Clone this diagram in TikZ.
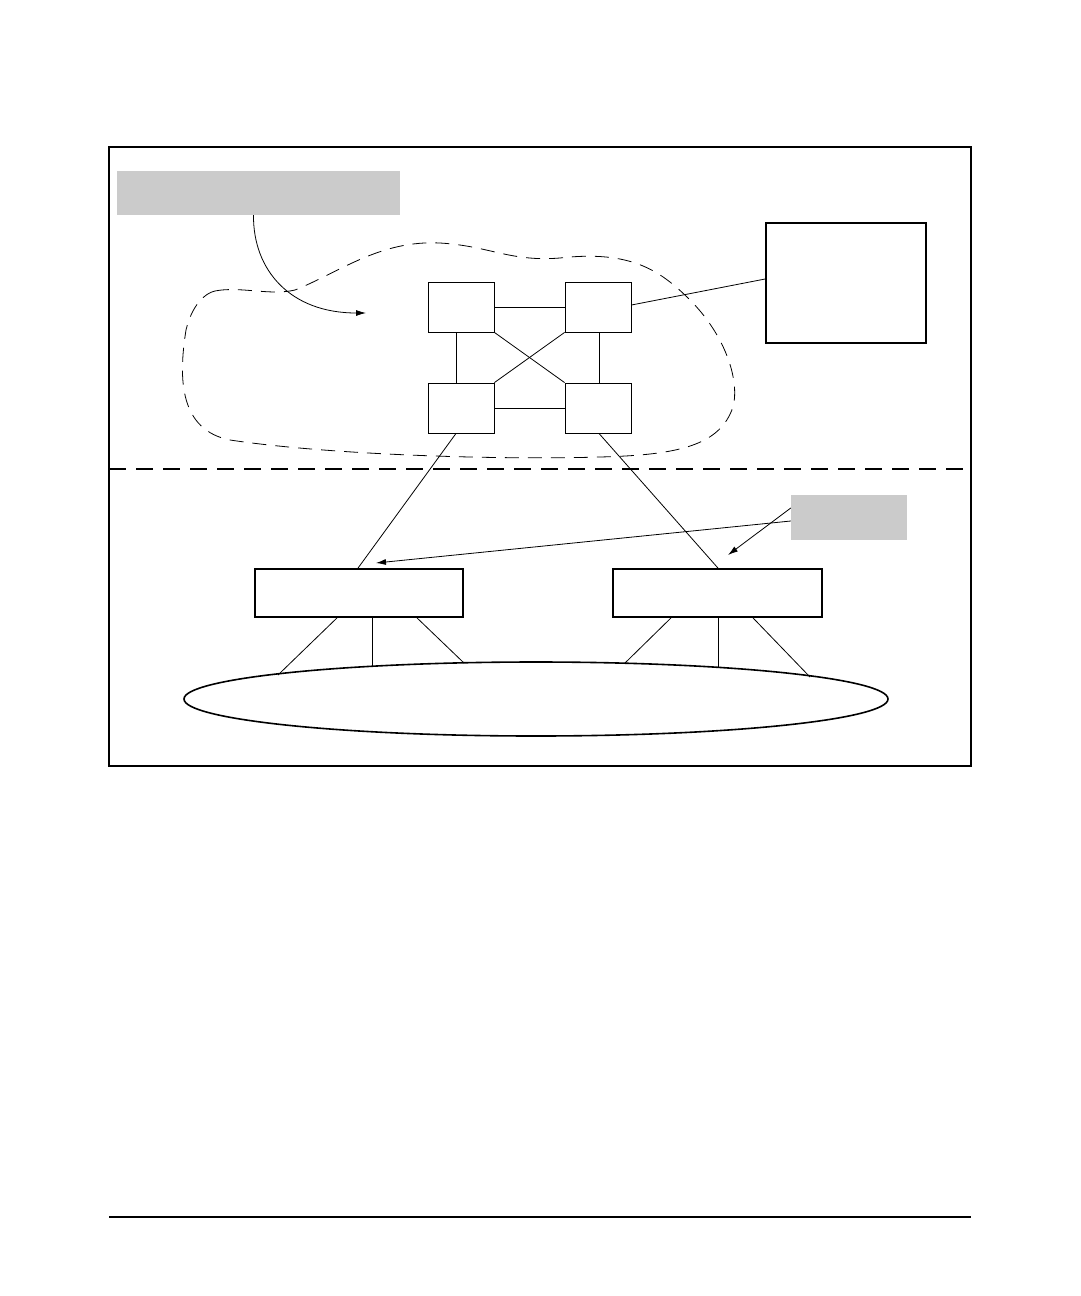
\documentclass[tikz,border=0pt]{standalone}
\usetikzlibrary{arrows.meta,shapes.geometric}
\begin{document}
\begin{tikzpicture}[x=1pt,y=-1pt,
  sw/.style={draw,line width=0.9pt,rectangle,minimum width=66pt,minimum height=50pt,inner sep=0pt},
  bigbox/.style={draw,line width=1.8pt,rectangle,inner sep=0pt},
  graybox/.style={fill={rgb,255:red,203;green,203;blue,203},rectangle,inner sep=0pt},
  thin/.style={line width=0.8pt},
  arr/.style={line width=0.8pt,-{Latex[length=10pt,width=6pt]}}]
\useasboundingbox (0,0) rectangle (1080,1296);
% frame
\draw[line width=2pt] (109,147) rectangle (971,766);
% gray labels
\node[graybox,minimum width=283pt,minimum height=44pt] (lab1) at (258.5,193) {};
\node[graybox,minimum width=116pt,minimum height=45pt] (lab2) at (849,517.5) {};
% cloud
\draw[dashed,dash pattern=on 14pt off 9pt,line width=0.8pt]
  (215,291) .. controls (240,286) and (270,296) .. (295,290)
  .. controls (340,272) and (380,240) .. (440,243)
  .. controls (490,246) and (510,262) .. (560,258)
  .. controls (630,250) and (660,270) .. (690,300)
  .. controls (725,335) and (740,380) .. (733,407)
  .. controls (720,445) and (680,455) .. (600,457)
  .. controls (500,460) and (330,455) .. (230,440)
  .. controls (180,430) and (178,380) .. (186,330)
  .. controls (192,305) and (205,293) .. (215,291);
% switches
\node[sw] (tl) at (461,307) {};
\node[sw] (tr) at (598,307) {};
\node[sw] (bl) at (461,408) {};
\node[sw] (br) at (598,408) {};
\node[bigbox,minimum width=160pt,minimum height=120pt] (srv) at (846,283) {};
\draw[thin] (tl.east) -- (tr.west);
\draw[thin] (bl.east) -- (br.west);
\draw[thin] ([xshift=-5pt]tl.south) -- ([xshift=-5pt]bl.north);
\draw[thin] ([xshift=1pt]tr.south) -- ([xshift=1pt]br.north);
\draw[thin] (tl.south east) -- (br.north west);
\draw[thin] (tr.south west) -- (bl.north east);
\draw[thin] ([yshift=2pt]tr.east) -- ([yshift=4pt]srv.west);
% curved arrow
\coordinate (a1) at (366,313);
\draw[arr] ([xshift=-5pt]lab1.south) .. controls (253,270) and (290,313) .. (a1);
% divider
\draw[line width=1.6pt,dash pattern=on 17pt off 10pt] (109,469) -- (971,469);
% access switches
\node[bigbox,minimum width=208pt,minimum height=48pt] (ls) at (359,593) {};
\node[bigbox,minimum width=209pt,minimum height=48pt] (rs) at (717.5,593) {};
\draw[thin] ([xshift=-5pt]bl.south) -- ([xshift=-1pt]ls.north);
\draw[thin] ([xshift=1pt]br.south) -- ([xshift=0.5pt]rs.north);
% arrows from lab2
\coordinate (t1) at (376,563);
\coordinate (t2) at (728,555);
\draw[arr] ([yshift=-3.5pt]lab2.west) -- (t1);
\draw[arr] ([yshift=9.5pt]lab2.west) -- (t2);
% LAN ellipse
\node[draw,ellipse,line width=1.6pt,minimum width=704pt,minimum height=74pt,inner sep=0pt] (lan) at (536,699) {};
\coordinate (e1) at (278,675);
\coordinate (e2) at (372,667);
\coordinate (e3) at (464,663);
\coordinate (e4) at (625,663);
\coordinate (e5) at (718,667);
\coordinate (e6) at (810,677);
\draw[thin] ([xshift=-22pt]ls.south) -- (e1);
\draw[thin] ([xshift=13pt]ls.south) -- (e2);
\draw[thin] ([xshift=58pt]ls.south) -- (e3);
\draw[thin] ([xshift=-46.5pt]rs.south) -- (e4);
\draw[thin] ([xshift=0.5pt]rs.south) -- (e5);
\draw[thin] ([xshift=35.5pt]rs.south) -- (e6);
% footer rule
\draw[line width=1.2pt] (109,1217) -- (971,1217);
\end{tikzpicture}
\end{document}
